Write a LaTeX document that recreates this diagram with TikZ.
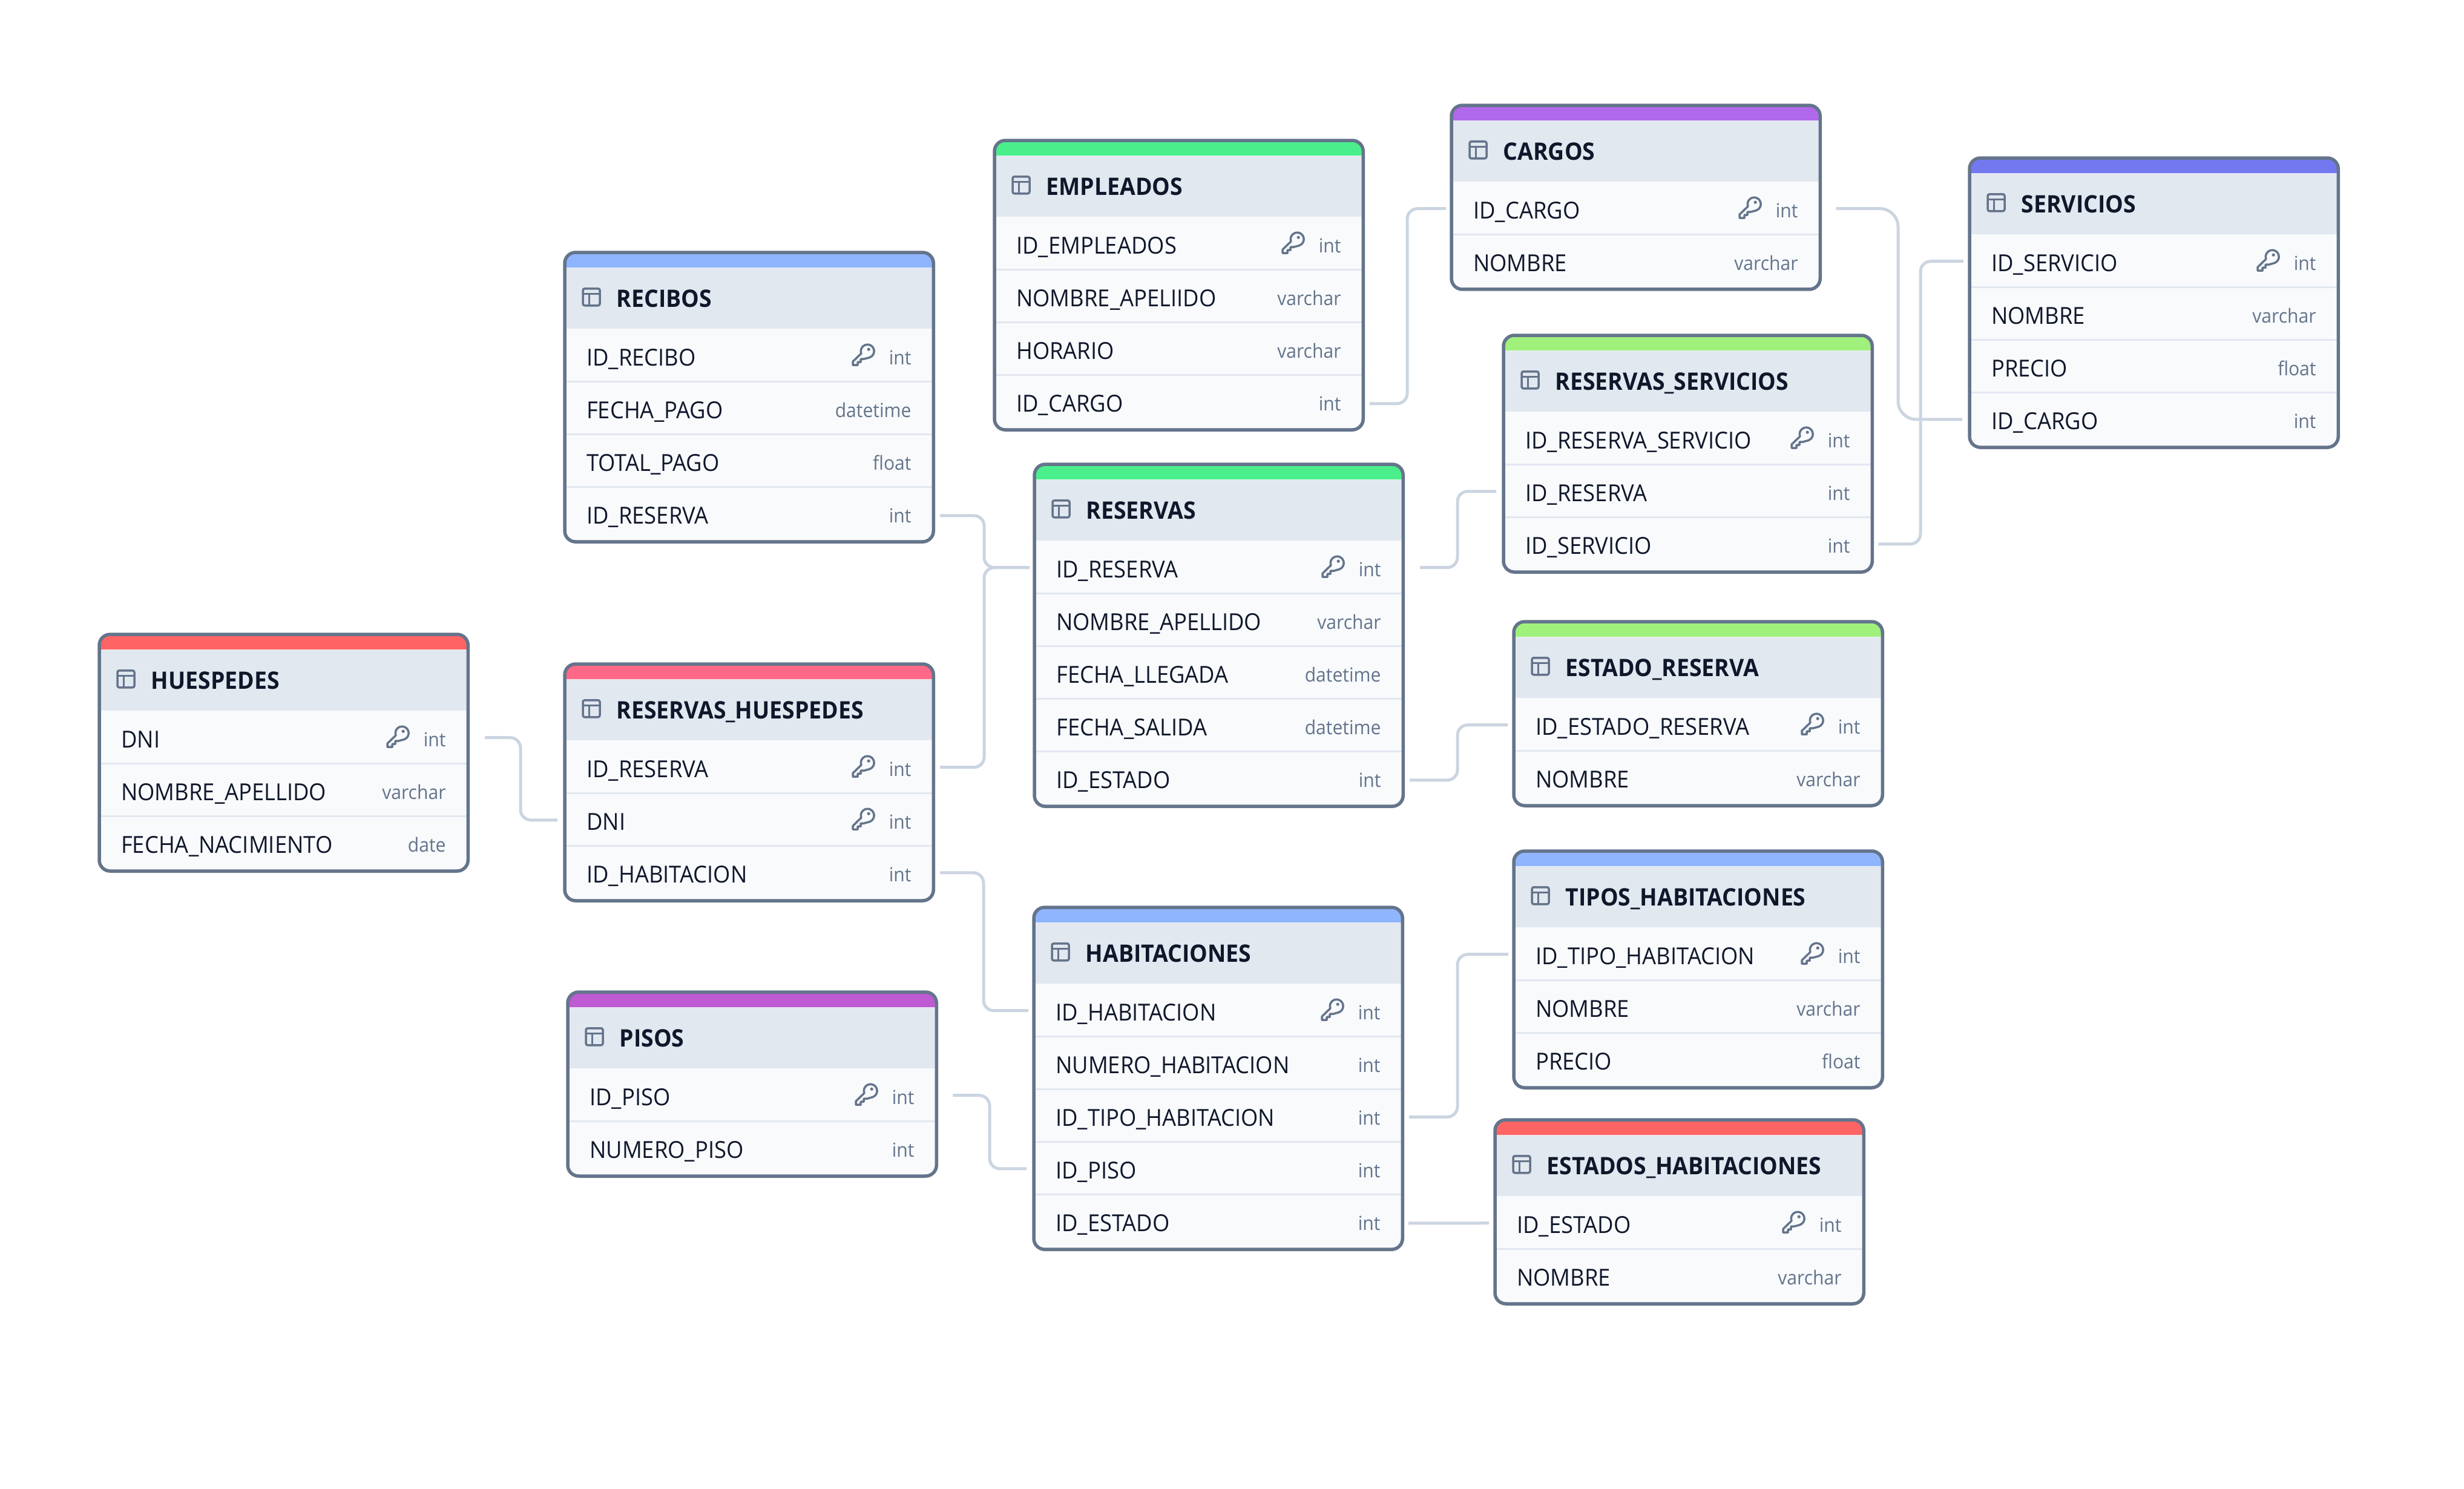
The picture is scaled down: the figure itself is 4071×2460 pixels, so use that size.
\documentclass[tikz,border=0pt]{standalone}
\usepackage{fontspec}
\setmainfont[FakeStretch=0.94]{Open Sans}
\usetikzlibrary{arrows.meta, positioning, calc, backgrounds}
\definecolor{redHead}{RGB}{255, 100, 100}
\definecolor{pinkHead}{RGB}{255, 105, 135}
\definecolor{blueHead}{RGB}{143, 181, 255}
\definecolor{indigoHead}{RGB}{115, 120, 240}
\definecolor{mintHead}{RGB}{74, 239, 140}
\definecolor{limeHead}{RGB}{160, 240, 124}
\definecolor{violetHead}{RGB}{176, 105, 234}
\definecolor{plumHead}{RGB}{190, 90, 210}
\definecolor{slateEdge}{RGB}{100, 116, 139}
\definecolor{headFill}{RGB}{226, 232, 240}
\definecolor{rowFill}{RGB}{248, 250, 252}
\definecolor{relEdge}{RGB}{203, 213, 225}
\definecolor{inkText}{RGB}{15, 23, 42}
\tikzset{
  tablebody/.style={
    fill=rowFill, rounded corners=0.18cm,
  },
  tableshade/.style={
    fill=black, opacity=0.04, rounded corners=0.2cm,
  },
  tableedge/.style={
    draw=slateEdge, rounded corners=0.18cm, line width=0.055cm,
  },
  tablehead/.style={
    fill=headFill, anchor=north west, minimum width=6.075cm, minimum height=1cm,
    text width=6.075cm, inner xsep=0pt, inner ysep=0pt,
    align=left, text height=0.32cm, text depth=0.02cm,
    font=\fontsize{11.3pt}{13pt}\selectfont\bfseries, text=inkText,
  },
  tablerow/.style={
    anchor=north west, minimum width=6.075cm, minimum height=0.87cm,
    text width=6.075cm-0.71cm, inner xsep=0.355cm, inner ysep=0pt,
    align=left, text height=0.35cm, text depth=0.02cm,
    font=\fontsize{11pt}{13pt}\selectfont, text=inkText,
  },
  rowtype/.style={
    anchor=east, inner xsep=0.36cm, inner ysep=0pt,
    text height=0.32cm, text depth=0.02cm,
    font=\fontsize{9.1pt}{11pt}\selectfont, text=slateEdge,
  },
  rowrule/.style={draw=headFill, line width=0.03cm},
  relation/.style={draw=relEdge, line width=0.05cm, rounded corners=0.17cm},
  keyicon/.pic={
    \begin{scope}[x=0.01cm, y=0.01cm]
      \draw[slateEdge, line width=0.035cm, line join=round]
        (10.8,-4.3) arc[start angle=-70, end angle=200, radius=11]
        -- (-17,-11) -- (-17,-17) -- (-9,-17) -- (-9,-12) -- (-4,-12) -- (-4,-7) -- (1,-7) -- cycle;
      \fill[slateEdge] (9,9) circle[radius=2.6];
    \end{scope}
  },
  gridicon/.pic={
    \begin{scope}[x=0.01cm, y=0.01cm]
      \draw[slateEdge, line width=0.035cm, rounded corners=0.03cm] (-14,-14) rectangle (14,14);
      \draw[slateEdge, line width=0.03cm] (-14,5) -- (14,5) (-4,5) -- (-4,-14);
    \end{scope}
  },
}
\newcommand{\dbtable}[6]{%
  % #1 = node name, #2 = colour, #3,#4 = position, #5 = title, #6 = rows
  \coordinate (#1-nw) at (#3,#4);
  \fill[#2] ([yshift=-0.25cm]#1-nw) [rounded corners=0.18cm] -- (#1-nw) -- ([xshift=6.075cm]#1-nw)
    [sharp corners] -- ([xshift=6.075cm, yshift=-0.25cm]#1-nw) -- cycle;
  \node[tablehead] (#1) at ([yshift=-0.25cm]#1-nw) {\hspace*{0.85cm}#5};
  \pic at ([xshift=0.44cm, yshift=0.02cm]#1.west) {gridicon};
  \foreach \fld/\typ/\pk [count=\i] in {#6}{
    \node[tablerow] (#1-\i) at ([yshift={-(\i-1)*0.87cm}]#1.south west) {\fld};
    \node[rowtype] (#1-\i-type) at (#1-\i.east) {\typ};
    \ifnum\pk=1 \pic at ([xshift=-1.16cm, yshift=0.015cm]#1-\i.east) {keyicon}; \fi
    \ifnum\i>1 \draw[rowrule] (#1-\i.north west) -- (#1-\i.north east); \fi
    \xdef\rowsn{\i}
  }
  \begin{pgfonlayer}{background}
    \path[tableshade] ([yshift=-0.04cm]#1-nw) rectangle ([yshift=-0.06cm]#1-\rowsn.south east);
    \path[tablebody] (#1-nw) rectangle ([yshift=-0.02cm]#1-\rowsn.south east);
  \end{pgfonlayer}
  \draw[tableedge] (#1-nw) rectangle ([yshift=-0.02cm]#1-\rowsn.south east);
}
\newcommand{\relink}[6][]{%
  % #2 = from node, #3 = to node, #4 = shift at start, #5 = x of the riser, #6 = gap at end
  \coordinate (linkfrom) at ([#4]#2.east);
  \draw[relation, #1] (linkfrom) -- (#5,0 |- linkfrom) -- (#5,0 |- #3.west) -- ([xshift=-#6]#3.west);
}

\begin{document}
\begin{tikzpicture}[x=0.01cm, y=-0.01cm]

\useasboundingbox (0,0) rectangle (4071,2460);

% =========================================================================
% tables
% =========================================================================

\dbtable{huespedes}{redHead}{164}{1048}{HUESPEDES}{DNI/int/1, NOMBRE\_APELLIDO/varchar/0, FECHA\_NACIMIENTO/date/0}
\dbtable{recibos}{blueHead}{933}{417}{RECIBOS}{ID\_RECIBO/int/1, FECHA\_PAGO/datetime/0, TOTAL\_PAGO/float/0, ID\_RESERVA/int/0}
\dbtable{reshuesp}{pinkHead}{933}{1097}{RESERVAS\_HUESPEDES}{ID\_RESERVA/int/1, DNI/int/1, ID\_HABITACION/int/0}
\dbtable{pisos}{plumHead}{938}{1639}{PISOS}{ID\_PISO/int/1, NUMERO\_PISO/int/0}
\dbtable{empleados}{mintHead}{1643}{232}{EMPLEADOS}{ID\_EMPLEADOS/int/1, NOMBRE\_APELIIDO/varchar/0, HORARIO/varchar/0, ID\_CARGO/int/0}
\dbtable{reservas}{mintHead}{1709}{767}{RESERVAS}{ID\_RESERVA/int/1, NOMBRE\_APELLIDO/varchar/0, FECHA\_LLEGADA/datetime/0, FECHA\_SALIDA/datetime/0, ID\_ESTADO/int/0}
\dbtable{habitaciones}{blueHead}{1708}{1499}{HABITACIONES}{ID\_HABITACION/int/1, NUMERO\_HABITACION/int/0, ID\_TIPO\_HABITACION/int/0, ID\_PISO/int/0, ID\_ESTADO/int/0}
\dbtable{cargos}{violetHead}{2398}{174}{CARGOS}{ID\_CARGO/int/1, NOMBRE/varchar/0}
\dbtable{resservicios}{limeHead}{2484}{554}{RESERVAS\_SERVICIOS}{ID\_RESERVA\_SERVICIO/int/1, ID\_RESERVA/int/0, ID\_SERVICIO/int/0}
\dbtable{estadores}{limeHead}{2501}{1027}{ESTADO\_RESERVA}{ID\_ESTADO\_RESERVA/int/1, NOMBRE/varchar/0}
\dbtable{tipos}{blueHead}{2501}{1406}{TIPOS\_HABITACIONES}{ID\_TIPO\_HABITACION/int/1, NOMBRE/varchar/0, PRECIO/float/0}
\dbtable{estadosh}{redHead}{2470}{1850}{ESTADOS\_HABITACIONES}{ID\_ESTADO/int/1, NOMBRE/varchar/0}
\dbtable{servicios}{indigoHead}{3254}{261}{SERVICIOS}{ID\_SERVICIO/int/1, NOMBRE/varchar/0, PRECIO/float/0, ID\_CARGO/int/0}

% =========================================================================
% relations
% =========================================================================

\relink{huespedes-1}{reshuesp-2}{xshift=0.275cm}{860}{0.12cm}
\relink{recibos-4}{reservas-1}{xshift=0.105cm, yshift=-0.03cm}{1626}{0.08cm}
\relink{reshuesp-1}{reservas-1}{xshift=0.105cm}{1626}{0.08cm}
\relink{reshuesp-3}{habitaciones-1}{xshift=0.105cm}{1625}{0.09cm}
\relink{pisos-1}{habitaciones-4}{xshift=0.27cm}{1635}{0.12cm}
\relink{empleados-4}{cargos-1}{xshift=0.105cm, yshift=-0.03cm}{2325}{0.09cm}
\relink{reservas-1}{resservicios-2}{xshift=0.275cm}{2408}{0.12cm}
\relink{reservas-5}{estadores-1}{xshift=0.105cm, yshift=-0.03cm}{2408}{0.10cm}
\relink{habitaciones-3}{tipos-1}{xshift=0.105cm, yshift=-0.015cm}{2408}{0.09cm}
\draw[relation] ([xshift=0.095cm, yshift=-0.03cm]habitaciones-5.east) -- ([xshift=-0.10cm]estadosh-1.west);
\relink[rounded corners=0.3cm]{cargos-1}{servicios-4}{xshift=0.26cm}{3136}{0.12cm}
\relink{resservicios-3}{servicios-1}{xshift=0.10cm}{3173}{0.10cm}

\end{tikzpicture}
\end{document}
